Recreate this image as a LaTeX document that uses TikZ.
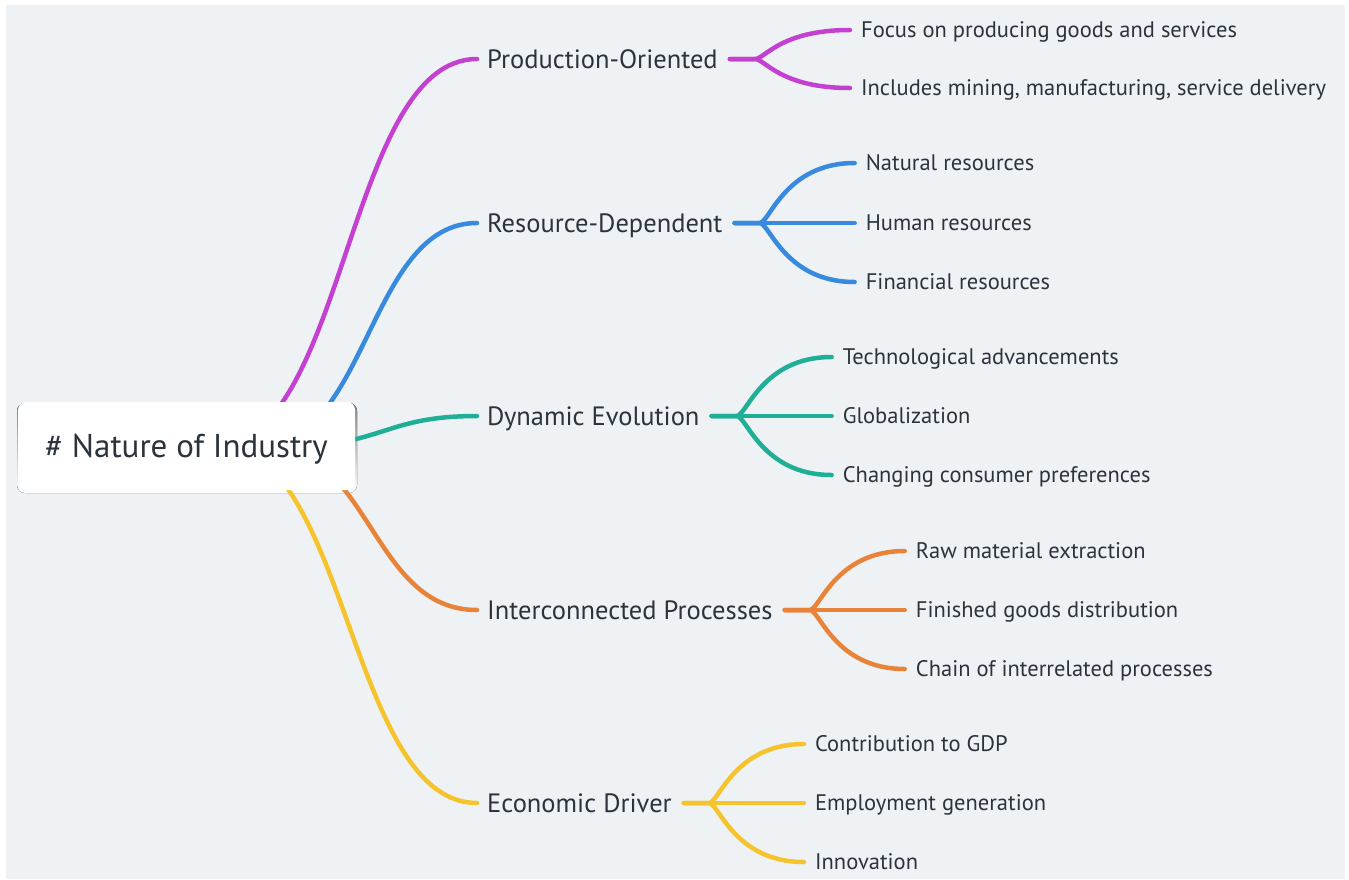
\documentclass[tikz,border=0pt]{standalone}
\usepackage{fontspec}
\setmainfont{PT Sans}
\usetikzlibrary{positioning}

\pgfdeclarelayer{bg}
\pgfdeclarelayer{links}
\pgfsetlayers{bg,links,main}

\definecolor{paper}{HTML}{EFF2F5}
\definecolor{shade}{HTML}{E8EBEE}
\definecolor{ink}{HTML}{2B333D}
\definecolor{cpink}{HTML}{C440D0}
\definecolor{cblue}{HTML}{378ADD}
\definecolor{cteal}{HTML}{1FAE96}
\definecolor{corange}{HTML}{E8833A}
\definecolor{cyellow}{HTML}{F5C42C}

\tikzset{
  rootbox/.style={fill=white, rounded corners=8pt, minimum width=337pt,
    minimum height=88pt, text=ink, text height=23pt, text depth=0pt,
    font=\fontsize{33}{38}\selectfont},
  topic/.style={anchor=west, inner sep=0pt, text=ink, text height=18.5pt,
    text depth=0pt, font=\fontsize{26.5}{30}\selectfont},
  leaf/.style={anchor=west, inner sep=0pt, text=ink, text height=15.7pt,
    text depth=0pt, font=\fontsize{22.5}{26}\selectfont},
  link/.style={line width=4.5pt, line cap=round},
}

% curve from a main topic to one of its leaves
\newcommand{\sublink}[3]{%
  \draw[link,#1] ([xshift=12pt]#2.east) -- ++(25,0)
    .. controls +(10,0) and +(-70,0) .. ([xshift=-11pt]#3.west);}

\begin{document}
\begin{tikzpicture}[x=1pt,y=-1pt]

  \useasboundingbox (0,0) rectangle (1349,879);
  \begin{pgfonlayer}{bg}
    \fill[white] (0,0) rectangle (1349,879);
    \fill[paper] (6,5) rectangle (1345,879);
    \fill[shade, rounded corners=8pt] (17,403) rectangle (357,493);
  \end{pgfonlayer}

  \node[rootbox] (root) at (186.5,446) {\# Nature of Industry};

  \node[topic] (po) at (487,59)  {Production-Oriented};
  \node[topic] (rd) at (487,223) {Resource-Dependent};
  \node[topic] (de) at (487,416) {Dynamic Evolution};
  \node[topic] (ip) at (487,610) {Interconnected Processes};
  \node[topic] (ed) at (487,803) {Economic Driver};

  \node[leaf] (po1) at ([xshift=143pt,yshift=29pt]po.east)  {Focus on producing goods and services};
  \node[leaf] (po2) at ([xshift=143pt,yshift=-29pt]po.east) {Includes mining, manufacturing, service delivery};

  \node[leaf] (rd1) at ([xshift=143pt,yshift=60pt]rd.east)  {Natural resources};
  \node[leaf] (rd2) at ([xshift=143pt]rd.east)              {Human resources};
  \node[leaf] (rd3) at ([xshift=143pt,yshift=-59pt]rd.east) {Financial resources};

  \node[leaf] (de1) at ([xshift=143pt,yshift=59pt]de.east)  {Technological advancements};
  \node[leaf] (de2) at ([xshift=143pt]de.east)              {Globalization};
  \node[leaf] (de3) at ([xshift=143pt,yshift=-59pt]de.east) {Changing consumer preferences};

  \node[leaf] (ip1) at ([xshift=143pt,yshift=59pt]ip.east)  {Raw material extraction};
  \node[leaf] (ip2) at ([xshift=143pt]ip.east)              {Finished goods distribution};
  \node[leaf] (ip3) at ([xshift=143pt,yshift=-59pt]ip.east) {Chain of interrelated processes};

  \node[leaf] (ed1) at ([xshift=143pt,yshift=59pt]ed.east)  {Contribution to GDP};
  \node[leaf] (ed2) at ([xshift=143pt]ed.east)              {Employment generation};
  \node[leaf] (ed3) at ([xshift=143pt,yshift=-59pt]ed.east) {Innovation};

  \begin{pgfonlayer}{links}
    \draw[link,cpink] ([xshift=28.5pt]root.center)
      .. controls +(131,0) and +(-131,0) .. ([xshift=-10pt]po.west);
    \draw[link,cblue] ([xshift=72.5pt]root.center)
      .. controls +(109,0) and +(-109,0) .. ([xshift=-10pt]rd.west);
    \draw[link,cteal] ([xshift=103.5pt]root.center)
      .. controls +(93,0) and +(-93,0) .. ([xshift=-10pt]de.west);
    \draw[link,corange] ([xshift=78.5pt]root.center)
      .. controls +(106,0) and +(-106,0) .. ([xshift=-10pt]ip.west);
    \draw[link,cyellow] ([xshift=33.5pt]root.center)
      .. controls +(128,0) and +(-128,0) .. ([xshift=-10pt]ed.west);

    \sublink{cpink}{po}{po1}
    \sublink{cpink}{po}{po2}
    \sublink{cblue}{rd}{rd1}
    \sublink{cblue}{rd}{rd2}
    \sublink{cblue}{rd}{rd3}
    \sublink{cteal}{de}{de1}
    \sublink{cteal}{de}{de2}
    \sublink{cteal}{de}{de3}
    \sublink{corange}{ip}{ip1}
    \sublink{corange}{ip}{ip2}
    \sublink{corange}{ip}{ip3}
    \sublink{cyellow}{ed}{ed1}
    \sublink{cyellow}{ed}{ed2}
    \sublink{cyellow}{ed}{ed3}
  \end{pgfonlayer}

\end{tikzpicture}
\end{document}
